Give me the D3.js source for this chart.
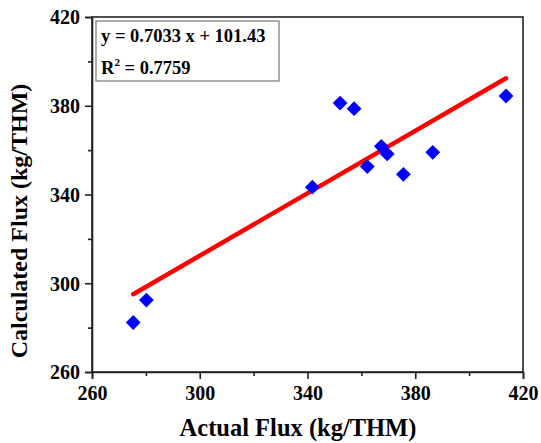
<!DOCTYPE html>
<html>
<head>
<meta charset="utf-8">
<script src="https://cdn.jsdelivr.net/npm/d3@7"></script>
<style>
  html, body { margin: 0; padding: 0; background: #fff; }
  svg text { font-family: "Liberation Serif", "Times New Roman", serif; font-weight: bold; }
</style>
</head>
<body>
<svg id="chart" width="541" height="443"></svg>
<script>
// Measured vs. calculated flux
const actualFlux = [275.3, 280.2, 341.8, 352.1, 357.3, 362.2, 367.4, 369.6, 375.6, 386.5, 413.7];
const calculatedFlux = [282.3, 292.4, 343.3, 381.2, 378.7, 352.6, 361.7, 358.3, 349.1, 359.0, 384.4];
const fitSlope = 0.7033;
const fitIntercept = 101.43;
const fitR2 = 0.7759;
const xTickValues = [260, 300, 340, 380, 420];
const yTickValues = [260, 300, 340, 380, 420];
const minorTickValues = [280, 320, 360, 400];

const svg = d3.select("#chart");
const margin = { left: 92, right: 18, top: 17, bottom: 71 };
const W = 541, H = 443;
const x = d3.scaleLinear().domain([260, 420]).range([margin.left, W - margin.right]);
const y = d3.scaleLinear().domain([260, 420]).range([H - margin.bottom, margin.top]);

// frame (top and right edges)
svg.append("rect")
  .attr("x", x(260)).attr("y", y(420))
  .attr("width", x(420) - x(260)).attr("height", y(260) - y(420))
  .attr("fill", "none").attr("stroke", "#222").attr("stroke-width", 1.6);

// axes with outward major and minor ticks
const xAxis = svg.append("g").attr("transform", `translate(0,${y(260)})`)
  .call(d3.axisBottom(x).tickValues(xTickValues).tickSize(7).tickPadding(5).tickFormat(d3.format("d")));
svg.append("g").attr("transform", `translate(0,${y(260)})`)
  .call(d3.axisBottom(x).tickValues(minorTickValues).tickSize(4).tickFormat(""))
  .call(g => g.select(".domain").remove());
const yAxis = svg.append("g").attr("transform", `translate(${x(260)},0)`)
  .call(d3.axisLeft(y).tickValues(yTickValues).tickSize(7).tickPadding(5).tickFormat(d3.format("d")));
svg.append("g").attr("transform", `translate(${x(260)},0)`)
  .call(d3.axisLeft(y).tickValues(minorTickValues).tickSize(4).tickFormat(""))
  .call(g => g.select(".domain").remove());

svg.selectAll(".domain, .tick line").attr("stroke", "#222").attr("stroke-width", 1.6);
svg.selectAll(".tick text").attr("fill", "#000").style("font-size", "20px")
  .style("font-family", "'Liberation Serif', serif").style("font-weight", "bold");
xAxis.selectAll(".tick text").attr("dy", "0.78em");
yAxis.selectAll(".tick text").attr("dy", "0.34em");

// fitted regression line across the data range
const x0 = d3.min(actualFlux), x1 = d3.max(actualFlux);
svg.append("line")
  .attr("x1", x(x0)).attr("y1", y(fitSlope * x0 + fitIntercept))
  .attr("x2", x(x1)).attr("y2", y(fitSlope * x1 + fitIntercept))
  .attr("stroke", "#ff0000").attr("stroke-width", 4.5).attr("stroke-linecap", "round");

// diamond markers
const diamond = d3.symbol().type(d3.symbolSquare).size(110);
svg.append("g").selectAll("path")
  .data(actualFlux.map((a, i) => [a, calculatedFlux[i]]))
  .join("path")
  .attr("d", diamond)
  .attr("transform", d => `translate(${x(d[0])},${y(d[1])}) rotate(45)`)
  .attr("fill", "#0000ff");

// equation box
const box = svg.append("g");
box.append("rect").attr("x", 96).attr("y", 21).attr("width", 183).attr("height", 60)
  .attr("fill", "#fff").attr("stroke", "#777").attr("stroke-width", 1.2);
box.append("text").attr("x", 101).attr("y", 42).style("font-size", "18.5px")
  .text(`y = ${fitSlope.toFixed(4)} x + ${fitIntercept.toFixed(2)}`);
const r2 = box.append("text").attr("x", 101).attr("y", 74).style("font-size", "18.5px");
r2.append("tspan").text("R");
r2.append("tspan").attr("dy", -8).style("font-size", "11px").text("2");
r2.append("tspan").attr("dy", 8).text(` = ${fitR2.toFixed(4)}`);

// axis titles
svg.append("text").attr("x", 298).attr("y", 436).attr("text-anchor", "middle")
  .style("font-size", "24.5px").text("Actual Flux (kg/THM)");
svg.append("text").attr("transform", "translate(27,221) rotate(-90)")
  .attr("text-anchor", "middle").style("font-size", "24px").text("Calculated Flux (kg/THM)");
</script>
</body>
</html>
